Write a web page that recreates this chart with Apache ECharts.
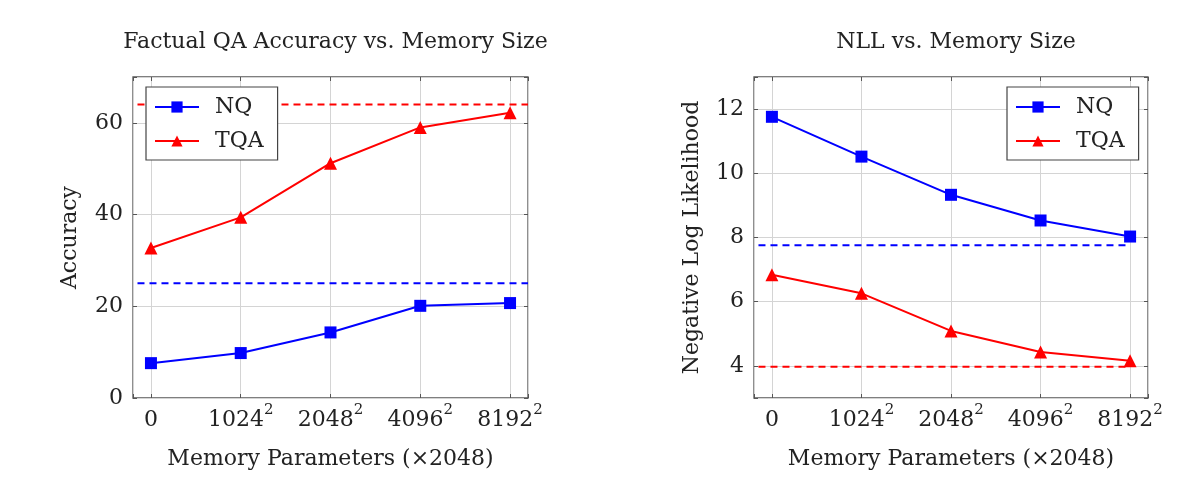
<!DOCTYPE html>
<html><head><meta charset="utf-8">
<script src="https://cdn.jsdelivr.net/npm/echarts@6/dist/echarts.min.js"></script>
<style>html,body{margin:0;padding:0;background:#fff}#c{width:1200px;height:495px}</style>
</head><body><div id="c"></div>
<script>
// ---- data ----
const xPositions = [0, 1, 2, 3, 4];
const xTickBases = ['0', '1024', '2048', '4096', '8192'];
const xTickExps  = ['', '2', '2', '2', '2'];
const accNQ  = [7.6, 9.8, 14.3, 20.1, 20.7];
const accTQA = [32.7, 39.4, 51.2, 59.0, 62.2];
const accBaselineNQ = 25.0;
const accBaselineTQA = 64.0;
const nllNQ  = [11.76, 10.52, 9.33, 8.53, 8.03];
const nllTQA = [6.84, 6.26, 5.09, 4.43, 4.16];
const nllBaselineNQ = 7.76;
const nllBaselineTQA = 3.97;
const accBaselineSpan = [-0.15, 4.2];
const nllBaselineSpan = [-0.15, 4.0];

const FONT = 'DejaVu Serif';
const BLUE = '#0000ff', RED = '#ff0000';
const GRID = '#d4d4d4';
const TXT = '#222';
const FRAME = '#555';

function pts(vals){ return vals.map((v,i)=>[xPositions[i], v]); }
function xLabelFmt(v){
  const r = Math.round(v);
  if (Math.abs(v-r) > 1e-6 || r < 0 || r >= xTickBases.length) return '';
  return xTickExps[r] ? '{b|' + xTickBases[r] + '}{s|' + xTickExps[r] + '}' : '{b|' + xTickBases[r] + '}';
}
const tick = {show:true, inside:true, length:4, lineStyle:{color:FRAME, width:1}};
const noLine = {show:false, onZero:false};

function xAxis(gi){
  return {type:'value', gridIndex:gi, position:'bottom', min:-0.2, max:4.2, splitNumber:5,
    name:'Memory Parameters (×2048)', nameLocation:'middle', nameGap:50,
    nameTextStyle:{fontFamily:FONT, fontSize:22, color:TXT},
    axisLine:noLine, axisTick:tick,
    axisLabel:{formatter:xLabelFmt, fontFamily:FONT, fontSize:22, color:TXT, margin:5,
      rich:{b:{fontFamily:FONT, fontSize:22, color:TXT, lineHeight:28, verticalAlign:'bottom'},
            s:{fontFamily:FONT, fontSize:15, color:TXT, lineHeight:15, verticalAlign:'top'}}},
    splitLine:{show:true, lineStyle:{color:GRID, width:1}}
  };
}
function xAxisTop(gi){
  return {type:'value', gridIndex:gi, position:'top', min:-0.2, max:4.2, splitNumber:5,
    axisLine:noLine, axisTick:tick, axisLabel:{show:false}, splitLine:{show:false}};
}
function yAxisRight(gi, min, max, extra){
  return Object.assign({type:'value', gridIndex:gi, position:'right', min, max,
    axisLine:noLine, axisTick:tick, axisLabel:{show:false}, splitLine:{show:false}}, extra);
}
function lineSeries(name, data, color, symbol, size, xi, yi){
  return {type:'line', name, data, xAxisIndex:xi, yAxisIndex:yi, color, symbol, symbolSize:size,
    lineStyle:{color, width:2}, itemStyle:{color}, z:5, animation:false};
}
function dashSeries(name, y, span, color, xi, yi){
  return {type:'line', name, data:[[span[0], y],[span[1], y]], xAxisIndex:xi, yAxisIndex:yi,
    symbol:'none', lineStyle:{color, width:2, type:[7,5]}, z:4, animation:false};
}
function legend(left){
  return {data:['NQ','TQA'], orient:'vertical', left, top:87, padding:[7,14,6,8], itemGap:8, z:20,
    itemWidth:44, itemHeight:14, borderColor:'#444', borderWidth:1.2, backgroundColor:'#fff',
    lineStyle:{width:2}, textStyle:{fontFamily:FONT, fontSize:22, color:TXT, padding:[0,0,0,11], lineHeight:26}};
}

const chart = echarts.init(document.getElementById('c'), null, {renderer:'canvas'});
chart.setOption({
  animation:false,
  title:[
    {text:'Factual QA Accuracy vs. Memory Size', left:330.5, top:26, textAlign:'center',
      textStyle:{fontFamily:FONT, fontSize:22, fontWeight:'normal', color:TXT}},
    {text:'NLL vs. Memory Size', left:951, top:26, textAlign:'center',
      textStyle:{fontFamily:FONT, fontSize:22, fontWeight:'normal', color:TXT}}
  ],
  grid:[
    {left:133, right:672, top:77, bottom:97, show:true, borderColor:FRAME, borderWidth:1.3, backgroundColor:'transparent'},
    {left:754, right:52, top:77, bottom:97, show:true, borderColor:FRAME, borderWidth:1.3, backgroundColor:'transparent'}
  ],
  xAxis:[xAxis(0), xAxis(1), xAxisTop(0), xAxisTop(1)],
  yAxis:[
    {type:'value', gridIndex:0, position:'left', min:0, max:70, interval:20,
      name:'Accuracy', nameLocation:'middle', nameGap:52,
      nameTextStyle:{fontFamily:FONT, fontSize:22, color:TXT},
      axisLine:noLine, axisTick:tick,
      axisLabel:{formatter:v=> v%20===0 ? String(v) : '', fontFamily:FONT, fontSize:22, color:TXT, margin:10},
      splitLine:{show:true, lineStyle:{color:GRID, width:1}}},
    {type:'value', gridIndex:1, position:'left', min:3, max:13, splitNumber:5,
      name:'Negative Log Likelihood', nameLocation:'middle', nameGap:51,
      nameTextStyle:{fontFamily:FONT, fontSize:22, color:TXT},
      axisLine:noLine, axisTick:tick,
      axisLabel:{formatter:v=> v%2===0 ? String(v) : '', fontFamily:FONT, fontSize:22, color:TXT, margin:10},
      splitLine:{show:true, lineStyle:{color:GRID, width:1}}},
    yAxisRight(0, 0, 70, {interval:20}),
    yAxisRight(1, 3, 13, {splitNumber:5})
  ],
  legend:[legend(146), legend(1007)],
  series:[
    dashSeries('accBaseNQ', accBaselineNQ, accBaselineSpan, BLUE, 0, 0),
    dashSeries('accBaseTQA', accBaselineTQA, accBaselineSpan, RED, 0, 0),
    lineSeries('NQ', pts(accNQ), BLUE, 'rect', 12, 0, 0),
    lineSeries('TQA', pts(accTQA), RED, 'triangle', 13, 0, 0),
    dashSeries('nllBaseNQ', nllBaselineNQ, nllBaselineSpan, BLUE, 1, 1),
    dashSeries('nllBaseTQA', nllBaselineTQA, nllBaselineSpan, RED, 1, 1),
    lineSeries('NQ', pts(nllNQ), BLUE, 'rect', 12, 1, 1),
    lineSeries('TQA', pts(nllTQA), RED, 'triangle', 13, 1, 1)
  ]
});
</script></body></html>
